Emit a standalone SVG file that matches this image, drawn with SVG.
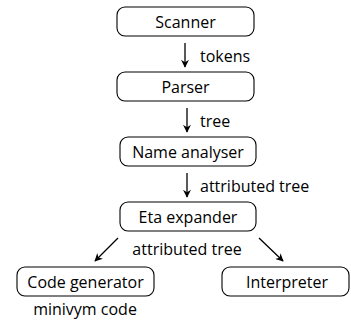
<svg xmlns="http://www.w3.org/2000/svg" width="351" height="322" viewBox="0 0 351 322">
<style>
.box{fill:#fff;stroke:#000;stroke-width:1.1}
.t{font-family:"Open Sans","Noto Sans",sans-serif;font-size:16px;fill:#000}
.c{text-anchor:middle}
.e{stroke:#000;stroke-width:1.3;fill:none;marker-end:url(#ah)}
</style>
<defs>
<marker id="ah" viewBox="0 0 10 10" refX="9" refY="5" markerWidth="8" markerHeight="8" orient="auto" markerUnits="userSpaceOnUse">
<path d="M0,0 L10,5 L0,10 L3,5 Z" fill="#000"/>
</marker>
</defs>
<rect width="351" height="322" fill="#fff"/>
<g id="connectors">
<line class="e" x1="185" y1="43" x2="185" y2="67"/>
<text class="t" x="200" y="62">tokens</text>
<line class="e" x1="187" y1="108" x2="187" y2="132"/>
<text class="t" x="200" y="127">tree</text>
<line class="e" x1="187" y1="173" x2="187" y2="197"/>
<text class="t" x="200" y="192">attributed tree</text>
<line class="e" x1="118" y1="238" x2="95" y2="261"/>
<line class="e" x1="259" y1="238" x2="283" y2="261"/>
<text class="t c" x="187" y="255">attributed tree</text>
</g>
<g id="scanner"><rect class="box" x="117" y="7" width="137" height="29" rx="8"/><text class="t c" x="185.5" y="28">Scanner</text></g>
<g id="parser"><rect class="box" x="117" y="72" width="137" height="29" rx="8"/><text class="t c" x="185.5" y="93">Parser</text></g>
<g id="name-analyser"><rect class="box" x="120" y="137" width="136" height="29" rx="8"/><text class="t c" x="188" y="158">Name analyser</text></g>
<g id="eta-expander"><rect class="box" x="120" y="202" width="136" height="29" rx="8"/><text class="t c" x="188" y="223">Eta expander</text></g>
<g id="code-generator"><rect class="box" x="17" y="267" width="137" height="29" rx="8"/><text class="t c" x="85.5" y="288">Code generator</text></g>
<g id="interpreter"><rect class="box" x="222" y="267" width="127" height="29" rx="8"/><text class="t c" x="287" y="288">Interpreter</text></g>
<g id="minivym"><text class="t c" x="85" y="315">minivym code</text></g>
</svg>
